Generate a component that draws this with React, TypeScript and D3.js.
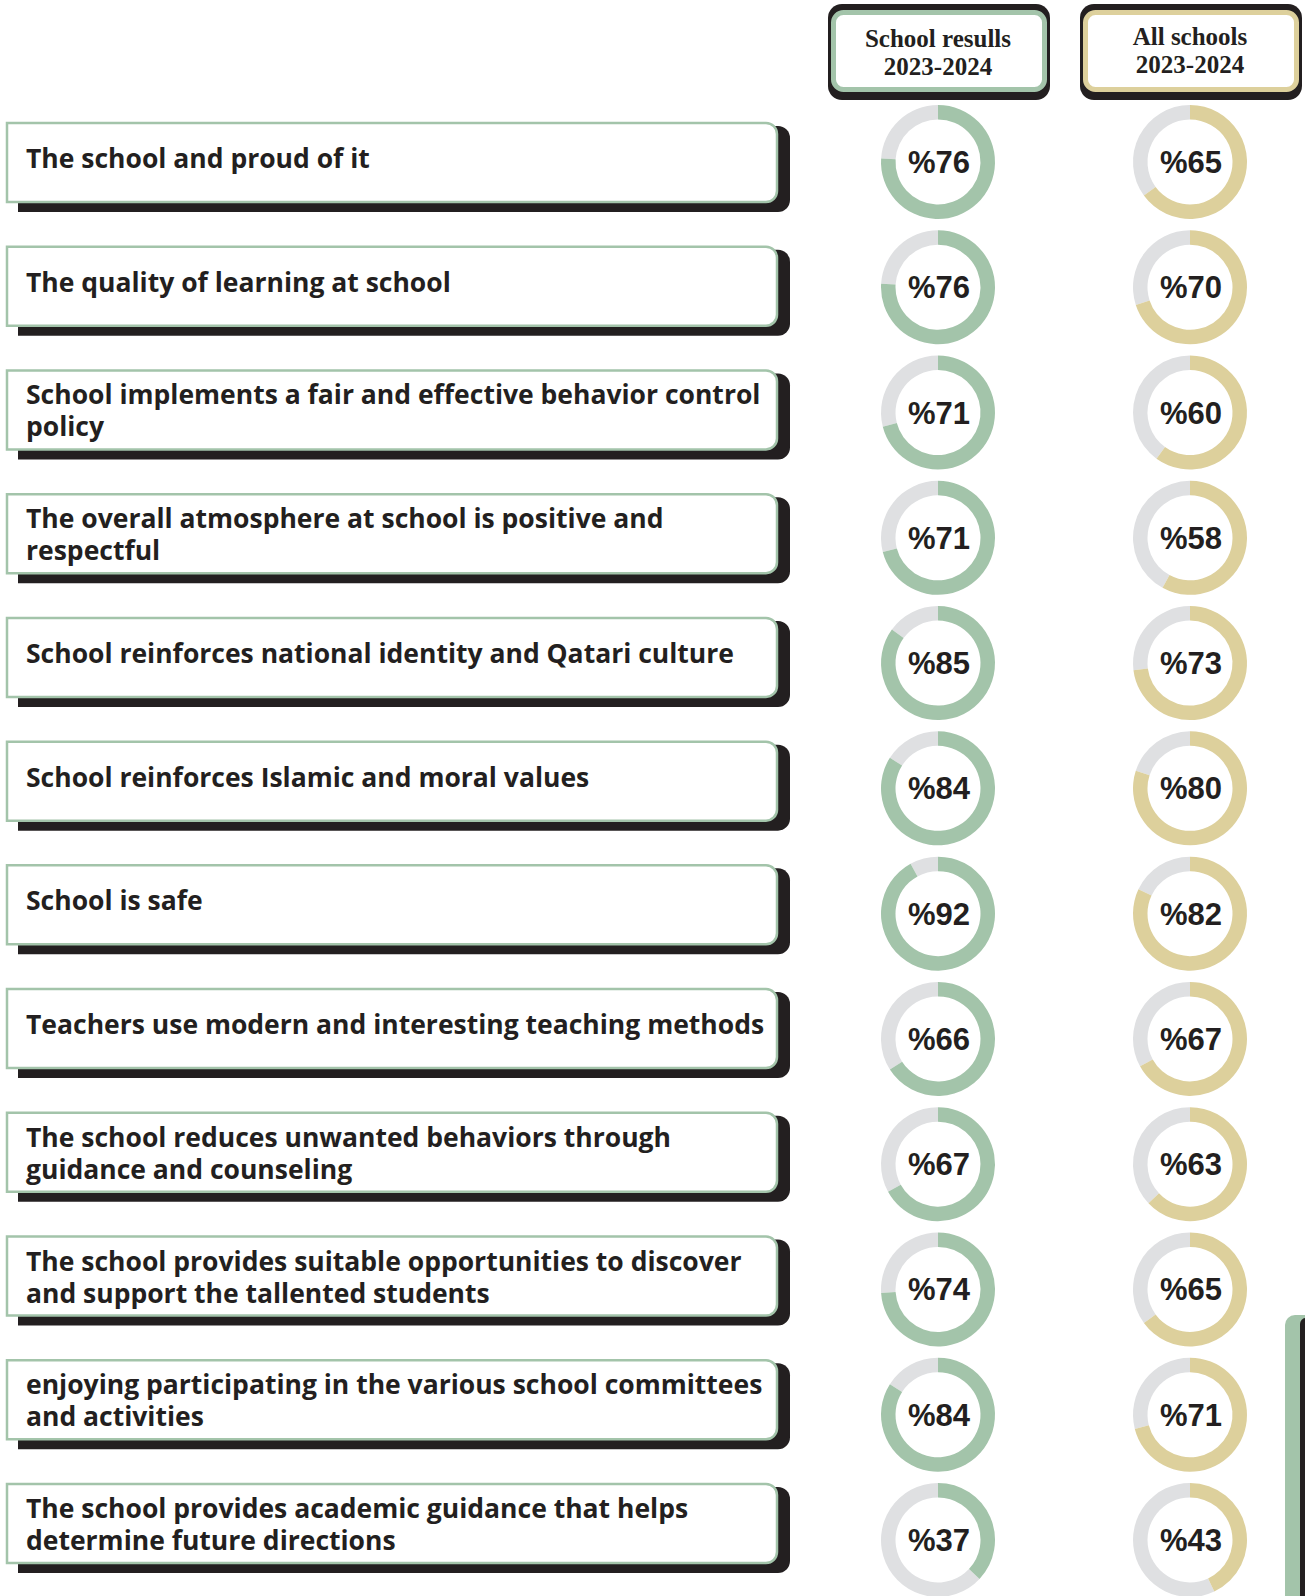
import React from "react";
import * as d3 from "d3";

const labelLines: string[][] = [
  ["The school and proud of it"],
  ["The quality of learning at school"],
  ["School implements a fair and effective behavior control", "policy"],
  ["The overall atmosphere at school is positive and", "respectful"],
  ["School reinforces national identity and Qatari culture"],
  ["School reinforces Islamic and moral values"],
  ["School is safe"],
  ["Teachers use modern and interesting teaching methods"],
  ["The school reduces unwanted behaviors through", "guidance and counseling"],
  ["The school provides suitable opportunities to discover", "and support the tallented students"],
  ["enjoying participating in the various school committees", "and activities"],
  ["The school provides academic guidance that helps", "determine future directions"],
];

const schoolValues = [76, 76, 71, 71, 85, 84, 92, 66, 67, 74, 84, 37];
const allValues = [65, 70, 60, 58, 73, 80, 82, 67, 63, 65, 71, 43];

const headers = [
  { key: "school", lines: ["School resulls", "2023-2024"] },
  { key: "all", lines: ["All schools", "2023-2024"] },
];

const GREEN = "#a3c4aa";
const BEIGE = "#ddd09c";
const GRAY = "#dfe0e2";
const DARK = "#231f20";

function rightRoundedRect(x: number, y: number, w: number, h: number, r: number) {
  return `M${x},${y} H${x + w - r} A${r},${r} 0 0 1 ${x + w},${y + r} V${y + h - r} A${r},${r} 0 0 1 ${x + w - r},${y + h} H${x} Z`;
}

export default function App() {
  const W = 1305;
  const H = 1596;
  const idx = d3.range(labelLines.length);
  const boxY = d3.scalePoint<number>().domain(idx).range([123, 1484]);
  const donutY = d3.scalePoint<number>().domain(idx).range([162, 1540]);
  const colX = d3.scalePoint<string>().domain(["school", "all"]).range([938, 1190]);
  const arc = d3.arc<any>().innerRadius(42.5).outerRadius(57);
  const TAU = Math.PI * 2;

  const boxX = 7;
  const boxW = 770;
  const boxH = 79;

  const series = [
    { key: "school", values: schoolValues, color: GREEN },
    { key: "all", values: allValues, color: BEIGE },
  ];

  return (
    <svg
      width={W}
      height={H}
      viewBox={`0 0 ${W} ${H}`}
      style={{ position: "absolute", left: 0, top: 0, background: "#fff" }}
    >
      <rect x={0} y={0} width={W} height={H} fill="#fff" />
      {headers.map((h, i) => {
        const cx = colX(h.key)!;
        const color = i === 0 ? GREEN : BEIGE;
        return (
          <g key={h.key}>
            <rect x={cx - 110} y={4} width={222} height={96} rx={14} fill={DARK} />
            <rect x={cx - 104.5} y={12.5} width={211} height={77} rx={10} fill="#fff" stroke={color} strokeWidth={5} />
            {h.lines.map((l, j) => (
              <text
                key={j}
                x={cx}
                y={(i === 0 ? 47 : 45) + j * 28}
                textAnchor="middle"
                fontFamily="'Liberation Serif', serif"
                fontWeight="bold"
                fontSize={25}
                fill={DARK}
              >
                {l}
              </text>
            ))}
          </g>
        );
      })}

      {idx.map((i) => {
        const y = boxY(i)!;
        const lines = labelLines[i];
        const base = lines.length === 1 ? 45 : 34;
        return (
          <g key={`box${i}`}>
            <path d={rightRoundedRect(18, y + 3, 772, boxH + 7, 12)} fill={DARK} />
            <path d={rightRoundedRect(boxX, y, boxW, boxH, 11)} fill="#fff" stroke={GREEN} strokeWidth={2.5} />
            {lines.map((l, j) => (
              <text
                key={j}
                x={26}
                y={y + base + j * 32}
                fontFamily="'Open Sans', sans-serif"
                fontWeight="bold"
                fontSize={26.5}
                fill={DARK}
              >
                {l}
              </text>
            ))}
          </g>
        );
      })}

      {series.map((s) =>
        s.values.map((v, i) => {
          const cx = colX(s.key)!;
          const cy = donutY(i)!;
          const end = (v / 100) * TAU;
          return (
            <g key={`${s.key}${i}`} transform={`translate(${cx},${cy})`}>
              <path d={arc({ startAngle: end, endAngle: TAU })!} fill={GRAY} />
              <path d={arc({ startAngle: 0, endAngle: end })!} fill={s.color} />
              <text
                x={1}
                y={11}
                textAnchor="middle"
                fontFamily="'Liberation Sans', Arial, sans-serif"
                fontWeight="bold"
                fontSize={31}
                fill={DARK}
              >
                {`%${v}`}
              </text>
            </g>
          );
        })
      )}

      <rect x={1285} y={1315} width={40} height={320} rx={10} fill={GREEN} />
      <rect x={1300} y={1318} width={20} height={320} rx={6} fill={DARK} />
    </svg>
  );
}
